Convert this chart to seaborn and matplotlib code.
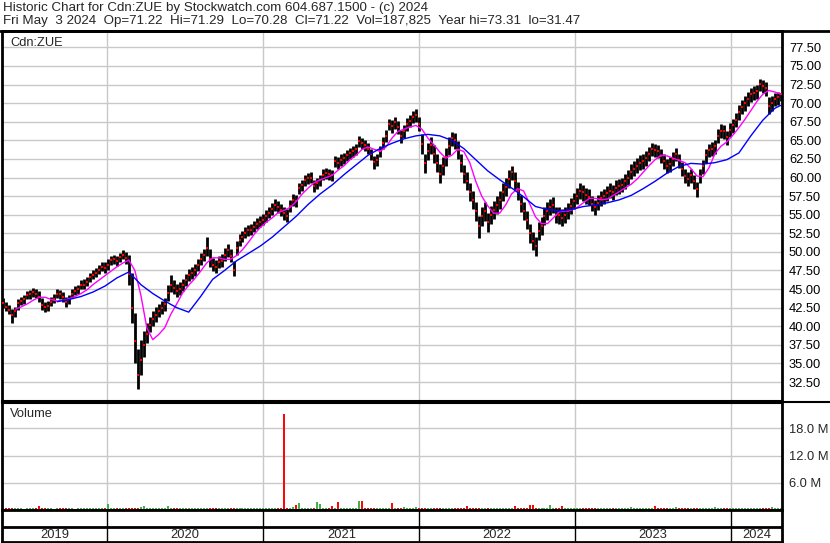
import numpy as np
import pandas as pd
import matplotlib
matplotlib.use("Agg")
import matplotlib.pyplot as plt
from matplotlib.lines import Line2D
import seaborn as sns

sns.set_style("white")
plt.rcParams["font.family"] = ["Liberation Sans", "DejaVu Sans"]

title_1 = "Historic Chart for Cdn:ZUE by Stockwatch.com 604.687.1500 - (c) 2024"
title_2 = ("Fri May  3 2024  Op=71.22  Hi=71.29  Lo=70.28  Cl=71.22  "
           "Vol=187,825  Year hi=73.31  lo=31.47")
symbol = "Cdn:ZUE"

# weekly bars, first week ending 2019-05-03
first_week = "2019-05-03"
close = [43.1, 42.6, 42.2, 41.5, 42.0, 43.1, 43.4, 43.6, 44.2, 44.3,
         44.6, 44.4, 43.9, 42.9, 42.6, 42.7, 43.3, 43.7, 44.4, 44.3,
         43.9, 43.3, 43.6, 44.4, 44.8, 45.0, 45.6, 45.6, 46.0, 46.6,
         46.9, 47.2, 47.6, 48.0, 47.9, 48.3, 48.9, 49.0, 48.8, 49.3,
         49.6, 49.2, 47.0, 42.5, 38.0, 33.5, 35.5, 37.5, 39.0, 40.2,
         41.0, 41.5, 42.0, 42.5, 43.0, 44.5, 45.5, 45.2, 44.8, 45.0,
         45.6, 46.2, 46.9, 47.2, 47.6, 48.3, 49.0, 49.6, 50.5, 49.0,
         48.3, 48.0, 48.6, 48.8, 49.6, 50.2, 49.5, 47.5, 50.5, 51.6,
         52.0, 52.6, 52.9, 53.0, 53.4, 53.8, 54.0, 54.3, 54.8, 55.2,
         55.8, 56.3, 56.0, 55.6, 55.2, 54.8, 56.2, 57.0, 56.9, 58.6,
         59.0, 59.6, 59.9, 60.0, 58.8, 59.2, 59.6, 60.4, 60.6, 60.5,
         60.3, 62.2, 62.0, 62.4, 62.6, 63.0, 63.3, 63.5, 63.8, 64.9,
         64.6, 64.4, 63.9, 63.2, 62.1, 62.4, 63.5, 64.6, 65.6, 67.2,
         66.9, 67.4, 66.8, 65.6, 66.2, 67.2, 67.6, 68.2, 68.4, 67.2,
         64.5, 62.0, 63.5, 64.4, 63.2, 62.0, 60.5, 61.5, 62.8, 64.2,
         65.3, 65.0, 63.7, 62.0, 60.5, 59.5, 58.0, 57.0, 55.5, 53.5,
         54.8, 55.5, 54.0, 55.0, 55.6, 56.3, 57.0, 58.0, 58.7, 59.8,
         60.8, 59.5, 58.2, 56.5, 55.5, 54.3, 52.5, 51.5, 50.8, 52.8,
         53.5, 54.8, 55.5, 56.0, 56.3, 55.0, 54.9, 54.6, 55.0, 55.5,
         56.2, 56.8, 57.5, 58.2, 58.0, 57.6, 57.4, 56.5, 56.0, 56.6,
         57.2, 57.5, 57.9, 58.2, 58.0, 58.6, 58.8, 59.0, 59.5, 60.0,
         60.8, 61.2, 61.6, 62.0, 62.2, 62.6, 63.2, 63.9, 63.7, 63.6,
         62.9, 62.2, 61.6, 61.8, 62.5, 63.2, 62.3, 61.2, 60.2, 59.8,
         60.3, 59.5, 58.4, 60.2, 61.5, 63.0, 63.7, 63.9, 64.2, 65.6,
         66.3, 66.2, 65.4, 66.4, 67.0, 67.8, 68.8, 69.5, 70.0, 70.6,
         71.2, 71.4, 71.6, 72.6, 72.3, 72.0, 69.6, 70.0, 70.6, 70.8,
         71.2]
low = [42.5, 42.0, 41.6, 40.5, 41.3, 42.2, 42.8, 43.0, 43.6, 43.7,
       44.0, 43.8, 43.2, 42.2, 41.9, 42.0, 42.7, 43.1, 43.8, 43.7,
       43.3, 42.6, 43.0, 43.8, 44.2, 44.4, 45.0, 45.0, 45.4, 46.0,
       46.3, 46.6, 47.0, 47.4, 47.2, 47.6, 48.2, 48.4, 48.1, 48.7,
       49.0, 48.4, 45.6, 40.5, 35.0, 31.5, 33.5, 35.8, 37.8, 39.2,
       40.0, 40.6, 41.2, 41.6, 42.1, 43.4, 44.6, 44.3, 43.9, 44.2,
       44.8, 45.4, 46.1, 46.4, 46.8, 47.4, 48.2, 48.8, 49.4, 48.0,
       47.4, 47.2, 47.8, 48.0, 48.8, 49.3, 48.6, 46.7, 49.6, 50.8,
       51.3, 51.9, 52.2, 52.3, 52.7, 53.1, 53.3, 53.6, 54.0, 54.5,
       55.0, 55.5, 55.2, 54.8, 54.3, 54.0, 55.3, 56.2, 56.1, 57.8,
       58.2, 58.8, 59.1, 59.2, 58.0, 58.4, 58.8, 59.6, 59.8, 59.7,
       59.5, 61.4, 61.2, 61.6, 61.8, 62.2, 62.5, 62.7, 63.0, 64.1,
       63.8, 63.6, 63.1, 62.4, 61.2, 61.6, 62.7, 63.8, 64.8, 66.4,
       66.0, 66.5, 65.9, 64.6, 65.3, 66.3, 66.8, 67.3, 67.5, 66.2,
       63.2, 60.6, 62.3, 63.2, 62.0, 60.8, 59.3, 60.3, 61.6, 63.0,
       64.2, 63.9, 62.5, 60.8, 59.3, 58.3, 56.8, 55.8, 54.2, 51.8,
       53.5, 54.2, 52.7, 53.7, 54.4, 55.1, 55.8, 56.8, 57.5, 58.6,
       59.6, 58.3, 57.0, 55.3, 54.3, 53.1, 51.2, 50.2, 49.5, 51.6,
       52.3, 53.6, 54.3, 54.9, 55.2, 53.9, 53.8, 53.5, 53.9, 54.4,
       55.1, 55.7, 56.4, 57.1, 56.9, 56.5, 56.3, 55.5, 55.0, 55.6,
       56.2, 56.5, 56.9, 57.2, 57.0, 57.6, 57.8, 58.0, 58.5, 59.0,
       59.8, 60.2, 60.6, 61.0, 61.2, 61.6, 62.2, 62.9, 62.7, 62.6,
       61.9, 61.2, 60.6, 60.8, 61.5, 62.2, 61.3, 60.2, 59.2, 58.8,
       59.3, 58.5, 57.4, 59.2, 60.5, 62.0, 62.7, 62.9, 63.2, 64.6,
       65.3, 65.2, 64.4, 65.4, 66.0, 66.8, 67.8, 68.5, 69.0, 69.6,
       70.2, 70.4, 70.6, 71.6, 71.3, 71.0, 68.6, 69.0, 69.6, 69.8,
       70.3]
high = [43.8, 43.3, 42.9, 42.3, 42.6, 43.6, 44.0, 44.2, 44.8, 44.9,
        45.2, 45.0, 44.7, 43.8, 43.2, 43.4, 43.9, 44.3, 45.0, 44.9,
        44.6, 44.0, 44.2, 45.0, 45.4, 45.6, 46.2, 46.3, 46.6, 47.2,
        47.5, 47.8, 48.2, 48.6, 48.6, 49.0, 49.5, 49.6, 49.4, 49.9,
        50.2, 50.0, 49.6, 47.2, 41.8, 37.0, 38.2, 39.4, 40.4, 41.3,
        42.0, 42.6, 43.0, 43.4, 43.8, 45.6, 46.9, 46.2, 45.7, 45.9,
        46.4, 47.0, 47.7, 48.0, 48.4, 49.1, 49.9, 50.4, 52.0, 50.4,
        49.2, 48.9, 49.4, 49.7, 50.5, 51.0, 50.4, 48.8, 51.4, 52.4,
        52.8, 53.3, 53.6, 53.8, 54.2, 54.6, 54.8, 55.1, 55.6, 56.0,
        56.6, 57.1, 56.8, 56.4, 56.0, 55.7, 57.0, 57.8, 57.7, 59.3,
        59.7, 60.3, 60.6, 60.7, 59.6, 59.9, 60.3, 61.1, 61.3, 61.2,
        61.0, 62.9, 62.8, 63.1, 63.3, 63.7, 64.0, 64.2, 64.5, 65.6,
        65.3, 65.1, 64.6, 63.9, 62.9, 63.1, 64.3, 65.4, 66.4, 67.9,
        67.7, 68.2, 67.6, 66.4, 67.0, 68.0, 68.4, 69.0, 69.2, 68.1,
        65.8, 63.2, 64.6, 65.5, 64.4, 63.2, 61.8, 62.7, 64.0, 65.4,
        66.1, 66.0, 64.9, 63.2, 61.7, 60.7, 59.2, 58.2, 56.7, 54.8,
        56.0, 56.7, 55.2, 56.2, 56.8, 57.5, 58.2, 59.2, 59.9, 61.0,
        61.6, 60.7, 59.4, 57.7, 56.7, 55.5, 53.8, 52.7, 52.0, 54.0,
        54.7, 56.0, 56.7, 57.1, 57.4, 56.1, 56.0, 55.7, 56.1, 56.6,
        57.3, 57.9, 58.6, 59.2, 59.0, 58.6, 58.4, 57.5, 57.0, 57.6,
        58.2, 58.5, 58.9, 59.2, 59.0, 59.6, 59.8, 60.0, 60.5, 61.0,
        61.8, 62.2, 62.6, 63.0, 63.2, 63.6, 64.1, 64.6, 64.5, 64.4,
        63.8, 63.1, 62.5, 62.7, 63.4, 64.0, 63.2, 62.1, 61.1, 60.7,
        61.2, 60.4, 59.4, 61.1, 62.4, 63.9, 64.5, 64.8, 65.1, 66.5,
        67.2, 67.1, 66.3, 67.3, 67.9, 68.7, 69.7, 70.4, 70.9, 71.5,
        72.1, 72.3, 72.5, 73.3, 73.1, 72.8, 70.8, 70.9, 71.4, 71.5,
        71.3]
# weekly volume, millions of units
volume = [0.35, 0.45, 0.35, 0.4, 0.35, 0.45, 0.35, 0.3, 0.4, 0.35,
          0.45, 0.35, 0.9, 0.45, 0.35, 0.4, 0.35, 0.3, 0.35, 0.4,
          0.35, 0.45, 0.35, 0.35, 0.3, 0.4, 0.35, 0.35, 0.45, 0.35,
          0.4, 0.35, 0.35, 0.45, 0.4, 1.4, 0.45, 0.35, 0.4, 0.35,
          0.45, 0.35, 0.5, 0.55, 0.45, 0.5, 0.7, 0.8, 0.45, 0.4,
          0.45, 0.35, 0.4, 0.45, 0.35, 0.8, 0.45, 0.35, 0.4, 0.35,
          0.35, 0.4, 0.35, 0.45, 0.35, 0.35, 0.4, 0.35, 0.45, 0.35,
          0.35, 0.4, 0.35, 0.35, 0.45, 0.35, 0.4, 0.45, 0.35, 0.35,
          0.4, 0.35, 0.35, 0.45, 0.35, 0.4, 0.35, 0.35, 0.4, 0.35,
          0.45, 0.35, 0.35, 0.4, 21.2, 0.45, 0.35, 0.6, 1.0, 1.5,
          0.45, 0.35, 0.4, 0.45, 0.35, 1.7, 1.4, 0.45, 0.35, 0.4,
          0.8, 0.45, 1.7, 0.35, 0.45, 0.4, 0.35, 0.35, 0.45, 2.0,
          2.0, 0.45, 0.35, 0.4, 0.35, 0.45, 0.35, 0.55, 0.35, 0.45,
          1.6, 0.45, 0.35, 0.4, 0.7, 0.35, 0.45, 0.35, 0.7, 0.45,
          0.4, 0.45, 0.35, 0.4, 0.45, 0.35, 0.4, 0.35, 0.45, 0.35,
          0.4, 0.45, 0.35, 0.35, 0.45, 0.8, 0.45, 0.4, 0.35, 0.45,
          0.35, 0.4, 0.45, 0.35, 0.35, 0.4, 0.45, 0.35, 0.35, 0.4,
          0.45, 0.8, 0.35, 0.4, 0.45, 0.35, 1.0, 1.0, 0.45, 0.35,
          0.4, 0.45, 0.35, 1.0, 0.4, 0.35, 0.45, 0.8, 0.35, 0.4,
          0.35, 0.35, 0.45, 0.35, 0.35, 0.4, 0.35, 0.45, 0.35, 0.35,
          0.4, 0.35, 0.35, 0.45, 0.35, 0.35, 0.4, 0.35, 0.35, 0.45,
          0.7, 0.35, 0.35, 0.4, 0.35, 0.35, 0.45, 0.35, 0.8, 0.35,
          0.35, 0.4, 0.35, 0.45, 0.35, 0.7, 0.35, 0.35, 0.4, 0.45,
          0.35, 0.35, 0.45, 0.35, 0.4, 0.35, 0.45, 0.35, 0.7, 0.35,
          0.4, 0.35, 0.45, 0.35, 0.35, 0.4, 0.45, 0.35, 0.4, 0.35,
          0.45, 0.4, 0.35, 0.45, 0.4, 0.35, 0.45, 0.7, 0.45, 0.4,
          0.45]

# magenta average, read every 2nd week starting at week 4
ma_fast_start, ma_fast_step = 4, 2
ma_fast = [42.3, 42.6, 43.0, 43.5, 43.9, 43.9, 43.6, 43.4, 43.5, 43.7,
           44.0, 44.4, 44.9, 45.6, 46.2, 46.8, 47.4, 48.0, 48.5, 48.9,
           47.5, 44.2, 39.8, 38.2, 38.9, 39.8, 41.6, 43.0, 44.5, 45.5,
           46.4, 47.4, 48.5, 49.2, 49.2, 49.0, 49.0, 49.5, 50.3, 51.3,
           52.4, 53.3, 54.0, 54.6, 55.3, 55.6, 56.0, 56.8, 57.8, 58.6,
           59.3, 59.7, 60.0, 60.3, 61.0, 61.6, 62.4, 63.0, 63.8, 64.1,
           63.8, 63.5, 64.1, 65.3, 66.2, 66.5, 66.8, 67.0, 66.5, 65.3,
           64.4, 63.4, 62.6, 63.0, 63.8, 63.5, 62.0, 59.5, 57.5, 56.2,
           55.2, 55.2, 56.3, 57.8, 58.5, 58.2, 56.5, 54.7, 53.8, 53.8,
           54.6, 55.4, 55.5, 55.6, 56.0, 56.6, 57.2, 57.2, 57.0, 57.1,
           57.6, 58.1, 58.6, 59.1, 59.8, 60.7, 61.6, 62.4, 63.0, 62.9,
           62.6, 62.3, 62.0, 61.2, 60.2, 60.1, 61.3, 63.2, 64.2, 64.8,
           65.7, 66.7, 67.8, 69.0, 70.2, 71.2, 71.7, 71.5, 71.2]
# blue average, read every 4th week starting at week 18, plus the last week
ma_slow_weeks = list(range(18, 259, 4)) + [260]
ma_slow = [43.3, 43.6, 44.0, 44.6, 45.4, 46.5, 47.3, 45.6, 44.4, 43.4,
           42.5, 41.9, 44.0, 46.3, 47.5, 48.8, 49.8, 50.8, 52.0, 53.4,
           54.8, 56.4, 57.8, 59.0, 60.4, 61.7, 63.0, 63.9, 64.6, 65.2,
           65.6, 65.8, 65.6, 65.0, 63.9, 62.4, 60.9, 59.7, 58.6, 57.4,
           56.1, 55.7, 55.5, 55.7, 56.1, 56.3, 56.6, 57.0, 57.6, 58.5,
           59.5, 60.6, 61.5, 61.9, 61.8, 62.0, 62.4, 63.3, 65.6, 67.7,
           69.3, 69.7]

price_ticks = [32.5, 35.0, 37.5, 40.0, 42.5, 45.0, 47.5, 50.0, 52.5, 55.0,
               57.5, 60.0, 62.5, 65.0, 67.5, 70.0, 72.5, 75.0, 77.5]
vol_ticks = [6, 12, 18]
years = [2019, 2020, 2021, 2022, 2023, 2024]

assert len(close) == len(low) == len(high) == len(volume)

weeks = pd.date_range(first_week, periods=len(close), freq="7D")
bars = pd.DataFrame({"week": weeks, "close": close, "low": low,
                     "high": high, "volume": volume})
chg = bars["close"].diff().fillna(1)
bars["colour"] = np.where(chg >= 0, "#3cb043", "#ff0000")
fast = pd.DataFrame({"week": weeks[ma_fast_start::ma_fast_step], "value": ma_fast})
slow = pd.DataFrame({"week": weeks[ma_slow_weeks], "value": ma_slow})

x_lo = weeks[0] - pd.Timedelta(days=3)
x_hi = weeks[-1] + pd.Timedelta(days=3)
year_starts = [pd.Timestamp(f"{y}-01-01") for y in years[1:]]

fig = plt.figure(figsize=(8.30, 5.43), dpi=100)
W, H = 830.0, 543.0
left, right = 2 / W, 782 / W
ax = fig.add_axes([left, 1 - 401 / H, right - left, 370 / H])
axv = fig.add_axes([left, 1 - 510 / H, right - left, 107 / H], sharex=ax)
axd = fig.add_axes([left, 1 - 542 / H, right - left, 32 / H], sharex=ax)

grid_c = "#c8c8c8"
for a in (ax, axv):
    for d in year_starts:
        a.axvline(d, color=grid_c, lw=1.0, zorder=0)

# price panel
for t in price_ticks:
    ax.axhline(t, color=grid_c, lw=1.0, zorder=0)
ax.vlines(bars["week"], bars["low"], bars["high"], color="black", lw=2.0, zorder=2)
sns.scatterplot(data=bars, x="week", y="close", ax=ax, color="#ff0000", marker="s",
                s=3, linewidth=0, zorder=3, legend=False)
sns.lineplot(data=fast, x="week", y="value", ax=ax, color="#ff00ff", lw=1.0, zorder=4)
sns.lineplot(data=slow, x="week", y="value", ax=ax, color="#0000ff", lw=1.0, zorder=4)
ax.set_xlim(x_lo, x_hi)
ax.set_ylim(29.95, 79.7)
ax.yaxis.tick_right()
ax.set_yticks(price_ticks)
ax.set_yticklabels([f"{t:.2f}" for t in price_ticks])
ax.tick_params(axis="y", length=0, pad=5, labelsize=9.3, labelcolor="#000000")
ax.tick_params(axis="x", length=0, labelbottom=False)
ax.set_xlabel("")
ax.set_ylabel("")
ax.text(8 / 780, 1 - 12 / 370, symbol, transform=ax.transAxes, fontsize=9.3,
        va="center", ha="left")

# volume panel
for t in vol_ticks:
    axv.axhline(t, color=grid_c, lw=1.0, zorder=0)
axv.vlines(bars["week"], 0, bars["volume"], colors=bars["colour"], lw=1.4, zorder=2)
axv.set_ylim(0, 23.6)
axv.yaxis.tick_right()
axv.set_yticks(vol_ticks)
axv.set_yticklabels([f"{t:.1f} M" for t in vol_ticks])
axv.tick_params(axis="y", length=0, pad=5, labelsize=9.3)
axv.tick_params(axis="x", length=0, labelbottom=False)
axv.set_xlabel("")
axv.set_ylabel("")
axv.text(8 / 780, 1 - 11 / 107, "Volume", transform=axv.transAxes, fontsize=9.3,
         va="center", ha="left")

# date strip
axd.set_ylim(0, 1)
axd.axhline(15 / 32, color="black", lw=2.0)
for d in year_starts:
    axd.axvline(d, color="black", lw=1.0)
edges = [x_lo] + year_starts + [x_hi]
for y, a, b in zip(years, edges[:-1], edges[1:]):
    axd.text(a + (b - a) / 2, 7 / 32, str(y), ha="center", va="center", fontsize=9.3)
axd.set_xticks([])
axd.set_yticks([])
axd.set_xlabel("")

for a in (ax, axv, axd):
    for s in a.spines.values():
        s.set_visible(True)
        s.set_color("black")
        s.set_linewidth(2.0)
ax.spines["bottom"].set_linewidth(1.5)
axv.spines["top"].set_linewidth(1.5)

# header
fig.text(3 / W, 1 - 8 / H, title_1, fontsize=9.6, va="center", ha="left")
fig.text(3 / W, 1 - 21 / H, title_2, fontsize=9.6, va="center", ha="left")
fig.add_artist(Line2D([0, 1], [1 - 31 / H, 1 - 31 / H], color="black", lw=2.0,
                      transform=fig.transFigure))
fig.add_artist(Line2D([right, 1], [1 - 402 / H, 1 - 402 / H], color="black", lw=1.5,
                      transform=fig.transFigure))

fig.savefig("out.png", dpi=100)
